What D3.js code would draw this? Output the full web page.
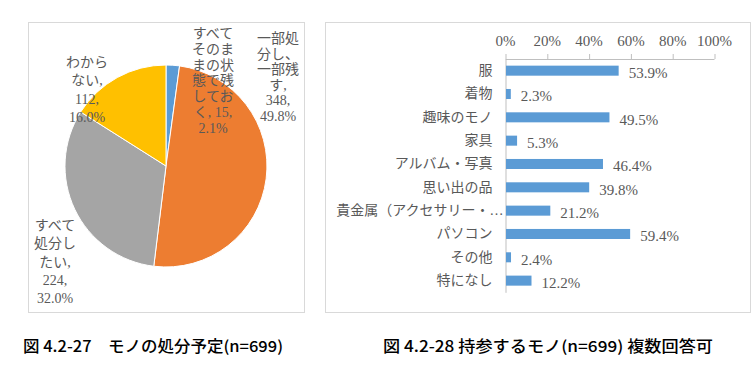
<!DOCTYPE html>
<html><head><meta charset="utf-8">
<script src="https://cdn.jsdelivr.net/npm/d3@7/dist/d3.min.js"></script>
<style>
html,body{margin:0;padding:0;background:#fff;}
svg{display:block;}
</style></head>
<body>
<svg id="chart" width="756" height="365"></svg>
<script>
// ---- Data: pie (figure 4.2-27) ----
const pieCategories = ["すべてそのままの状態で残しておく", "一部処分し、一部残す", "すべて処分したい", "わからない"];
const pieCounts = [15, 348, 224, 112];
const pieColors = ["#5B9BD5", "#ED7D31", "#A5A5A5", "#FFC000"];
// wrapped label lines as shown in the chart (category, count, percent)
const pieLabelLines = [
  ["すべて", "そのま", "まの状", "態で残", "してお", "く, {n},", "{p}%"],
  ["一部処", "分し、", "一部残", "す,", "{n},", "{p}%"],
  ["すべて", "処分し", "たい,", "{n},", "{p}%"],
  ["わから", "ない,", "{n},", "{p}%"]
];
const pieCaption = "図 4.2-27　モノの処分予定(n=699)";

// ---- Data: bar (figure 4.2-28) ----
const barCategories = ["服", "着物", "趣味のモノ", "家具", "アルバム・写真", "思い出の品", "貴金属（アクセサリー・…", "パソコン", "その他", "特になし"];
const barValues = [53.9, 2.3, 49.5, 5.3, 46.4, 39.8, 21.2, 59.4, 2.4, 12.2];
const barTicks = [0, 20, 40, 60, 80, 100];
const barCaption = "図 4.2-28  持参するモノ(n=699)  複数回答可";

// ---- Layout ----
const svg = d3.select("#chart");
const serif = "'Liberation Serif','Noto Sans CJK JP',serif";
const gothic = "'Noto Sans CJK JP',sans-serif";
const labelColor = "#595959";

// frames
svg.append("rect").attr("x", 28.5).attr("y", 22.5).attr("width", 276).attr("height", 290)
  .attr("fill", "#fff").attr("stroke", "#D9D9D9");
svg.append("rect").attr("x", 325.5).attr("y", 22.5).attr("width", 425).attr("height", 290)
  .attr("fill", "#fff").attr("stroke", "#D9D9D9");

// ---- Pie ----
const total = d3.sum(pieCounts);
const pie = d3.pie().sort(null).value(d => d)(pieCounts);
const arc = d3.arc().innerRadius(0).outerRadius(101);
const pg = svg.append("g").attr("transform", "translate(166,166)");
pg.selectAll("path").data(pie).join("path")
  .attr("d", arc)
  .attr("fill", (d, i) => pieColors[i])
  .attr("stroke", "#fff").attr("stroke-width", 1);

// label anchor positions (center x, first line y, line step)
const pieLabelPos = [
  {x: 213, y: 33, step: 15.8},
  {x: 278, y: 38, step: 15.6},
  {x: 55, y: 225, step: 18.3},
  {x: 87, y: 62, step: 18.3}
];
pieLabelLines.forEach((lines, i) => {
  const pct = (pieCounts[i] / total * 100).toFixed(1);
  const t = svg.append("text")
    .attr("text-anchor", "middle")
    .attr("font-family", serif).attr("font-size", 14)
    .attr("fill", labelColor);
  lines.forEach((ln, j) => {
    t.append("tspan")
      .attr("x", pieLabelPos[i].x)
      .attr("y", pieLabelPos[i].y + j * pieLabelPos[i].step)
      .attr("dy", "0.35em")
      .text(ln.replace("{n}", pieCounts[i]).replace("{p}", pct));
  });
});

// ---- Bar chart ----
const x = d3.scaleLinear().domain([0, 100]).range([505, 714]);
const y = d3.scaleBand().domain(barCategories).range([59, 292.3]).paddingInner(0.57).paddingOuter(0.285);

// top axis
const xAxis = d3.axisTop(x).tickValues(barTicks).tickFormat(d => d + "%").tickSize(5).tickPadding(8);
const gx = svg.append("g").attr("transform", "translate(0,59)").call(xAxis);
gx.select(".domain").attr("stroke", "#BFBFBF").attr("d", "M505.5,0.5H714.5");
gx.selectAll(".tick line").attr("stroke", "#BFBFBF").attr("transform", "translate(0.5,0)");
gx.selectAll(".tick text").attr("font-family", serif).attr("font-size", 15).attr("fill", labelColor);

// vertical axis line
const yAxis = d3.axisLeft(y).tickSize(0).tickPadding(13);
const gy = svg.append("g").attr("transform", "translate(505.5,0)").call(yAxis);
gy.select(".domain").attr("stroke", "#BFBFBF");
gy.selectAll(".tick text").attr("font-family", serif).attr("font-size", 14).attr("fill", labelColor)
  .attr("x", d => d.endsWith("…") ? -2 : -13);

// bars
svg.append("g").selectAll("rect").data(barValues).join("rect")
  .attr("x", x(0) + 1)
  .attr("y", (d, i) => y(barCategories[i]))
  .attr("width", d => x(d) - x(0))
  .attr("height", y.bandwidth())
  .attr("fill", "#5B9BD5");

// value labels
svg.append("g").selectAll("text").data(barValues).join("text")
  .attr("x", d => x(d) + 11)
  .attr("y", (d, i) => y(barCategories[i]) + y.bandwidth() / 2 + 2)
  .attr("dy", "0.35em")
  .attr("font-family", serif).attr("font-size", 15).attr("fill", labelColor)
  .text(d => d.toFixed(1) + "%");

// ---- Captions ----
svg.append("text").attr("x", 23).attr("y", 347).attr("dy", "0.35em")
  .attr("font-family", gothic).attr("font-size", 15.5).attr("font-weight", 500).attr("fill", "#000")
  .attr("textLength", 260).attr("lengthAdjust", "spacingAndGlyphs")
  .text(pieCaption);
svg.append("text").attr("x", 383).attr("y", 347).attr("dy", "0.35em")
  .attr("font-family", gothic).attr("font-size", 15.5).attr("font-weight", 500).attr("fill", "#000")
  .attr("textLength", 330).attr("lengthAdjust", "spacingAndGlyphs")
  .text(barCaption);
</script>
</body></html>
